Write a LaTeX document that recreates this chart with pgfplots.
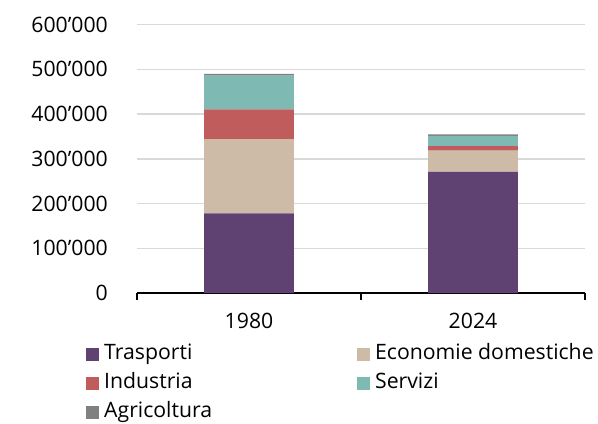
\documentclass[border=0pt]{standalone}
\usepackage{pgfplots}
\pgfplotsset{compat=1.18}
\usepackage{fontspec}
\setmainfont{Open Sans}
\definecolor{trasp}{RGB}{96,66,114}
\definecolor{econ}{RGB}{205,187,168}
\definecolor{indu}{RGB}{192,92,92}
\definecolor{serv}{RGB}{126,185,179}
\definecolor{agri}{RGB}{128,128,128}
\definecolor{gridgray}{RGB}{217,217,217}
\begin{document}
\begin{tikzpicture}[font=\fontsize{21.3}{25}\selectfont]
\useasboundingbox (-137bp,-131bp) rectangle (461bp,293bp);
\begin{axis}[
  at={(0,0)}, anchor=south west,
  scale only axis, width=448bp, height=268.5bp,
  xmin=-0.5, xmax=1.5, ymin=0, ymax=600000,
  ybar stacked, bar width=89.6bp,
  xtick={0,1}, xticklabels={1980,2024},
  ytick={0,100000,200000,300000,400000,500000,600000},
  yticklabels={0,100’000,200’000,300’000,400’000,500’000,600’000},
  scaled y ticks=false,
  axis x line*=bottom, axis y line*=left,
  y axis line style={draw=none},
  x axis line style={black, line width=1.5bp},
  ymajorgrids, grid style={gridgray, line width=1.5bp},
  major tick length=0pt,
  extra x ticks={-0.5,0.5,1.5}, extra x tick labels={},
  extra x tick style={major tick length=7bp, tick align=outside, tick style={black, line width=1.5bp}, grid=none},
  xticklabel style={anchor=north, inner sep=0pt, yshift=-20bp},
  yticklabel style={anchor=east, inner sep=0pt, xshift=-29bp},
  legend columns=2, legend cell align=left,
  legend image code/.code={\fill[#1, draw=none] (0bp,-6.5bp) rectangle (13bp,6.5bp);},
  legend style={draw=none, fill=none, inner sep=0pt, at={(0,0)}, anchor=north west,
    xshift=-51bp, yshift=-48.8bp,
    nodes={inner xsep=5bp, inner ysep=1.5bp, text height=16bp, text depth=6bp},
    row sep=4bp,
    /tikz/every even column/.append style={column sep=140bp}},
]
\addplot[fill=trasp, draw=none] coordinates {(0,177800) (1,270400)};
\addplot[fill=econ, draw=none] coordinates {(0,165900) (1,48000)};
\addplot[fill=indu, draw=none] coordinates {(0,66600) (1,9600)};
\addplot[fill=serv, draw=none] coordinates {(0,75400) (1,23100)};
\addplot[fill=agri, draw=none] coordinates {(0,3800) (1,3200)};
\legend{Trasporti, Economie domestiche, Industria, Servizi, Agricoltura}
\end{axis}
\end{tikzpicture}
\end{document}
